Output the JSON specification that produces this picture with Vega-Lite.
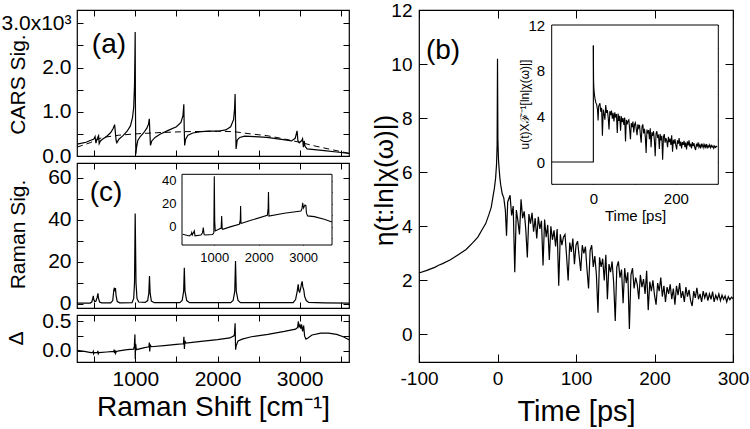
{
  "$schema": "https://vega.github.io/schema/vega-lite/v6.json",
  "background": "white",
  "padding": {"left": 0, "top": 0, "right": 0, "bottom": 0},
  "config": {
    "font": "Liberation Sans",
    "view": {"stroke": "#000", "strokeWidth": 1.2},
    "axis": {"grid": false, "domain": false, "labelFlush": false, "labelOverlap": false, "labelBound": false,
      "labelColor": "#000", "tickColor": "#000", "titleColor": "#000", "titleFontWeight": "normal",
      "labelFont": "Liberation Sans", "titleFont": "Liberation Sans", "tickWidth": 1}
  },
  "datasets": {
    "cars": [
      {"x": 290, "y": 0.27}, {"x": 350, "y": 0.29}, {"x": 400, "y": 0.31}, {"x": 450, "y": 0.35}, {"x": 490, "y": 0.38},
      {"x": 500, "y": 0.40}, {"x": 510, "y": 0.44}, {"x": 520, "y": 0.29}, {"x": 530, "y": 0.36}, {"x": 545, "y": 0.43},
      {"x": 553, "y": 0.46}, {"x": 560, "y": 0.28}, {"x": 575, "y": 0.34}, {"x": 600, "y": 0.38}, {"x": 650, "y": 0.44},
      {"x": 700, "y": 0.53}, {"x": 730, "y": 0.62}, {"x": 748, "y": 0.71}, {"x": 756, "y": 0.55}, {"x": 766, "y": 0.35},
      {"x": 775, "y": 0.30}, {"x": 800, "y": 0.38}, {"x": 850, "y": 0.46}, {"x": 900, "y": 0.56}, {"x": 940, "y": 0.68},
      {"x": 965, "y": 0.86}, {"x": 980, "y": 1.1}, {"x": 990, "y": 1.6}, {"x": 995, "y": 2.3}, {"x": 998, "y": 2.8},
      {"x": 1001, "y": 1.2}, {"x": 1006, "y": 0.04}, {"x": 1015, "y": 0.2}, {"x": 1030, "y": 0.35}, {"x": 1060, "y": 0.44},
      {"x": 1100, "y": 0.52}, {"x": 1140, "y": 0.63}, {"x": 1160, "y": 0.72}, {"x": 1170, "y": 0.84}, {"x": 1176, "y": 0.55},
      {"x": 1184, "y": 0.24}, {"x": 1200, "y": 0.34}, {"x": 1240, "y": 0.42}, {"x": 1300, "y": 0.49}, {"x": 1400, "y": 0.58},
      {"x": 1500, "y": 0.66}, {"x": 1555, "y": 0.76}, {"x": 1580, "y": 0.92}, {"x": 1590, "y": 1.17}, {"x": 1595, "y": 0.6},
      {"x": 1600, "y": 0.24}, {"x": 1612, "y": 0.38}, {"x": 1640, "y": 0.47}, {"x": 1700, "y": 0.52}, {"x": 1800, "y": 0.55},
      {"x": 1900, "y": 0.56}, {"x": 2000, "y": 0.56}, {"x": 2100, "y": 0.59}, {"x": 2160, "y": 0.66}, {"x": 2195, "y": 0.82},
      {"x": 2207, "y": 1.05}, {"x": 2214, "y": 1.4}, {"x": 2219, "y": 0.8}, {"x": 2226, "y": 0.16}, {"x": 2240, "y": 0.36},
      {"x": 2270, "y": 0.42}, {"x": 2330, "y": 0.45}, {"x": 2450, "y": 0.44}, {"x": 2600, "y": 0.42}, {"x": 2800, "y": 0.37},
      {"x": 2900, "y": 0.34}, {"x": 2945, "y": 0.40}, {"x": 2968, "y": 0.57}, {"x": 2978, "y": 0.35}, {"x": 2995, "y": 0.30},
      {"x": 3025, "y": 0.35}, {"x": 3035, "y": 0.39}, {"x": 3045, "y": 0.20}, {"x": 3055, "y": 0.34}, {"x": 3065, "y": 0.22},
      {"x": 3090, "y": 0.16}, {"x": 3150, "y": 0.15}, {"x": 3300, "y": 0.12}, {"x": 3450, "y": 0.09}, {"x": 3600, "y": 0.06}
    ],
    "nrb": [
      {"x": 290, "y": 0.2}, {"x": 450, "y": 0.3}, {"x": 600, "y": 0.42}, {"x": 800, "y": 0.47}, {"x": 1000, "y": 0.5},
      {"x": 1300, "y": 0.53}, {"x": 1600, "y": 0.55}, {"x": 2000, "y": 0.56}, {"x": 2200, "y": 0.55}, {"x": 2400, "y": 0.5},
      {"x": 2600, "y": 0.46}, {"x": 2800, "y": 0.39}, {"x": 3000, "y": 0.31}, {"x": 3200, "y": 0.22}, {"x": 3400, "y": 0.14},
      {"x": 3600, "y": 0.06}
    ],
    "raman": [
      {"x": 290, "y": 0.3}, {"x": 450, "y": 0.3}, {"x": 470, "y": 0.8}, {"x": 482, "y": 2.5}, {"x": 488, "y": 3.7},
      {"x": 494, "y": 2.0}, {"x": 505, "y": 1.0}, {"x": 520, "y": 1.2}, {"x": 535, "y": 3.0}, {"x": 545, "y": 4.9},
      {"x": 552, "y": 2.5}, {"x": 565, "y": 0.8}, {"x": 590, "y": 0.4}, {"x": 700, "y": 0.4}, {"x": 725, "y": 1.5},
      {"x": 738, "y": 6.5}, {"x": 745, "y": 7.6}, {"x": 752, "y": 6.0}, {"x": 758, "y": 7.4}, {"x": 765, "y": 4.0},
      {"x": 780, "y": 1.0}, {"x": 810, "y": 0.4}, {"x": 960, "y": 0.5}, {"x": 980, "y": 2.5}, {"x": 990, "y": 10},
      {"x": 995, "y": 30}, {"x": 998, "y": 42.9}, {"x": 1002, "y": 30}, {"x": 1008, "y": 10}, {"x": 1020, "y": 2.5},
      {"x": 1040, "y": 0.8}, {"x": 1120, "y": 0.6}, {"x": 1150, "y": 1.5}, {"x": 1164, "y": 5}, {"x": 1172, "y": 13.2},
      {"x": 1180, "y": 5}, {"x": 1195, "y": 1.2}, {"x": 1230, "y": 0.5}, {"x": 1540, "y": 0.5}, {"x": 1570, "y": 1.5},
      {"x": 1588, "y": 6}, {"x": 1596, "y": 17.1}, {"x": 1604, "y": 6}, {"x": 1625, "y": 1.5}, {"x": 1660, "y": 0.5},
      {"x": 2160, "y": 0.5}, {"x": 2190, "y": 1.5}, {"x": 2210, "y": 6}, {"x": 2219, "y": 20.3}, {"x": 2228, "y": 6},
      {"x": 2250, "y": 1.5}, {"x": 2280, "y": 0.5}, {"x": 2920, "y": 0.5}, {"x": 2950, "y": 2}, {"x": 2970, "y": 6},
      {"x": 2982, "y": 9.2}, {"x": 2990, "y": 6}, {"x": 3000, "y": 5.5}, {"x": 3010, "y": 7}, {"x": 3022, "y": 9.5},
      {"x": 3030, "y": 10.6}, {"x": 3038, "y": 8}, {"x": 3050, "y": 6.5}, {"x": 3060, "y": 3.5}, {"x": 3080, "y": 1.5},
      {"x": 3110, "y": 0.6}, {"x": 3300, "y": 0.4}, {"x": 3600, "y": 0.3}
    ],
    "ramanInset": [
      {"x": 289, "y": -6.4}, {"x": 437, "y": -7.8}, {"x": 480, "y": -6.5}, {"x": 492, "y": -4.9}, {"x": 505, "y": -7},
      {"x": 550, "y": -3.5}, {"x": 565, "y": -7.8}, {"x": 700, "y": -7}, {"x": 735, "y": -5}, {"x": 752, "y": -0.6},
      {"x": 770, "y": -6.5}, {"x": 790, "y": -7}, {"x": 964, "y": -6.5}, {"x": 990, "y": -5}, {"x": 1000, "y": 44},
      {"x": 1010, "y": 5}, {"x": 1022, "y": -3.5}, {"x": 1100, "y": -2}, {"x": 1155, "y": -1}, {"x": 1166, "y": 9.6},
      {"x": 1178, "y": -1.5}, {"x": 1189, "y": -2}, {"x": 1375, "y": 0.3}, {"x": 1563, "y": 2.3}, {"x": 1585, "y": 6},
      {"x": 1593, "y": 18.3}, {"x": 1600, "y": 3.0}, {"x": 1826, "y": 5.8}, {"x": 2195, "y": 10.1}, {"x": 2212, "y": 16},
      {"x": 2220, "y": 30.4}, {"x": 2230, "y": 9.5}, {"x": 2575, "y": 11.9}, {"x": 2951, "y": 13.9}, {"x": 2975, "y": 16},
      {"x": 2989, "y": 21}, {"x": 3010, "y": 16.5}, {"x": 3040, "y": 19}, {"x": 3063, "y": 18.5}, {"x": 3075, "y": 12},
      {"x": 3101, "y": 9.6}, {"x": 3251, "y": 9}, {"x": 3476, "y": 6.7}, {"x": 3648, "y": 4.3}
    ],
    "delta": [
      {"x": 290, "y": 0.01}, {"x": 380, "y": -0.01}, {"x": 460, "y": -0.03}, {"x": 482, "y": -0.03}, {"x": 488, "y": -0.01},
      {"x": 493, "y": -0.05}, {"x": 500, "y": -0.03}, {"x": 538, "y": -0.03}, {"x": 544, "y": 0.0}, {"x": 549, "y": -0.05},
      {"x": 556, "y": -0.03}, {"x": 650, "y": -0.02}, {"x": 738, "y": -0.01}, {"x": 742, "y": 0.02}, {"x": 748, "y": -0.04},
      {"x": 754, "y": 0.01}, {"x": 760, "y": -0.04}, {"x": 768, "y": -0.01}, {"x": 800, "y": 0.0}, {"x": 900, "y": 0.02},
      {"x": 978, "y": 0.03}, {"x": 988, "y": 0.08}, {"x": 995, "y": 0.28}, {"x": 999, "y": -0.14}, {"x": 1004, "y": 0.12},
      {"x": 1012, "y": 0.02}, {"x": 1100, "y": 0.05}, {"x": 1165, "y": 0.07}, {"x": 1170, "y": 0.14}, {"x": 1175, "y": -0.01},
      {"x": 1181, "y": 0.1}, {"x": 1195, "y": 0.07}, {"x": 1350, "y": 0.09}, {"x": 1500, "y": 0.11}, {"x": 1585, "y": 0.12},
      {"x": 1591, "y": 0.24}, {"x": 1597, "y": 0.03}, {"x": 1603, "y": 0.17}, {"x": 1615, "y": 0.13}, {"x": 1800, "y": 0.16},
      {"x": 2000, "y": 0.19}, {"x": 2150, "y": 0.22}, {"x": 2205, "y": 0.26}, {"x": 2214, "y": 0.47}, {"x": 2220, "y": 0.02},
      {"x": 2228, "y": 0.09}, {"x": 2250, "y": 0.17}, {"x": 2300, "y": 0.2}, {"x": 2411, "y": 0.24}, {"x": 2613, "y": 0.28},
      {"x": 2814, "y": 0.33}, {"x": 2950, "y": 0.37}, {"x": 2975, "y": 0.4}, {"x": 2983, "y": 0.5}, {"x": 2993, "y": 0.41},
      {"x": 3003, "y": 0.44}, {"x": 3013, "y": 0.38}, {"x": 3023, "y": 0.45}, {"x": 3035, "y": 0.33}, {"x": 3048, "y": 0.43},
      {"x": 3060, "y": 0.25}, {"x": 3076, "y": 0.2}, {"x": 3100, "y": 0.22}, {"x": 3150, "y": 0.27}, {"x": 3258, "y": 0.3},
      {"x": 3350, "y": 0.3}, {"x": 3450, "y": 0.28}, {"x": 3530, "y": 0.24}, {"x": 3600, "y": 0.19}
    ],
    "eta": [
      {"t": -100, "y": 2.27}, {"t": -90, "y": 2.37}, {"t": -80, "y": 2.48}, {"t": -75, "y": 2.56}, {"t": -70, "y": 2.62},
      {"t": -60, "y": 2.76}, {"t": -50, "y": 2.95}, {"t": -40, "y": 3.14}, {"t": -32, "y": 3.38}, {"t": -25, "y": 3.6},
      {"t": -19.5, "y": 3.88}, {"t": -15, "y": 4.1}, {"t": -11, "y": 4.43}, {"t": -8, "y": 4.7}, {"t": -6, "y": 5.05},
      {"t": -4, "y": 5.4}, {"t": -2.4, "y": 5.78}, {"t": -1.2, "y": 6.3}, {"t": -0.5, "y": 7.0}, {"t": 0, "y": 10.2},
      {"t": 0.5, "y": 7.2}, {"t": 1.2, "y": 6.5}, {"t": 2, "y": 6.15}, {"t": 3, "y": 5.8},
      {"t": 4, "y": 5.55}, {"t": 6, "y": 5.2}, {"t": 8, "y": 5.05}, {"t": 10, "y": 4.6}, {"t": 11.5, "y": 3.65},
      {"t": 13, "y": 4.9}, {"t": 16, "y": 5.15}, {"t": 18, "y": 4.4}, {"t": 20, "y": 4.75}, {"t": 22, "y": 2.3},
      {"t": 24, "y": 4.6}, {"t": 26, "y": 4.2}, {"t": 28, "y": 3.7}, {"t": 30, "y": 5.0}, {"t": 32, "y": 4.3},
      {"t": 34, "y": 4.55}, {"t": 36, "y": 3.9}, {"t": 38, "y": 2.85}, {"t": 40, "y": 4.45}, {"t": 42, "y": 4.1},
      {"t": 44, "y": 4.5}, {"t": 46, "y": 3.8}, {"t": 48, "y": 4.3}, {"t": 50, "y": 3.55}, {"t": 52, "y": 4.35},
      {"t": 54, "y": 3.9}, {"t": 56, "y": 4.2}, {"t": 58, "y": 2.55}, {"t": 60, "y": 4.25}, {"t": 62, "y": 3.6},
      {"t": 64, "y": 4.05}, {"t": 66, "y": 2.75}, {"t": 68, "y": 4.0}, {"t": 70, "y": 3.5}, {"t": 72, "y": 3.85},
      {"t": 74, "y": 3.25}, {"t": 76, "y": 3.9}, {"t": 78, "y": 1.8}, {"t": 80, "y": 3.7}, {"t": 82, "y": 3.3},
      {"t": 84, "y": 3.6}, {"t": 86, "y": 3.7}, {"t": 88, "y": 2.9}, {"t": 90, "y": 2.0}, {"t": 92, "y": 3.4},
      {"t": 94, "y": 3.05}, {"t": 96, "y": 3.55}, {"t": 98, "y": 2.6}, {"t": 100, "y": 3.3}, {"t": 102, "y": 3.45},
      {"t": 104, "y": 2.9}, {"t": 106, "y": 2.35}, {"t": 108, "y": 3.3}, {"t": 110, "y": 3.0}, {"t": 112, "y": 3.25},
      {"t": 114, "y": 2.4}, {"t": 116, "y": 1.7}, {"t": 118, "y": 3.1}, {"t": 120, "y": 3.3}, {"t": 122, "y": 2.5},
      {"t": 124, "y": 2.9}, {"t": 126, "y": 2.2}, {"t": 128, "y": 0.8}, {"t": 130, "y": 2.85}, {"t": 132, "y": 2.5},
      {"t": 134, "y": 2.8}, {"t": 136, "y": 2.0}, {"t": 138, "y": 2.95}, {"t": 140, "y": 1.3}, {"t": 142, "y": 2.6},
      {"t": 144, "y": 2.3}, {"t": 146, "y": 2.7}, {"t": 148, "y": 1.9}, {"t": 150, "y": 0.5}, {"t": 152, "y": 2.5},
      {"t": 154, "y": 2.7}, {"t": 156, "y": 2.1}, {"t": 158, "y": 2.4}, {"t": 160, "y": 1.15}, {"t": 162, "y": 2.45},
      {"t": 164, "y": 1.9}, {"t": 166, "y": 2.3}, {"t": 168, "y": 0.2}, {"t": 170, "y": 2.2}, {"t": 172, "y": 2.45},
      {"t": 174, "y": 1.7}, {"t": 176, "y": 2.1}, {"t": 178, "y": 1.85}, {"t": 180, "y": 1.3}, {"t": 182, "y": 2.2},
      {"t": 184, "y": 1.75}, {"t": 186, "y": 2.05}, {"t": 188, "y": 1.5}, {"t": 190, "y": 2.35}, {"t": 192, "y": 0.9},
      {"t": 194, "y": 1.95}, {"t": 196, "y": 1.6}, {"t": 198, "y": 2.0}, {"t": 200, "y": 1.45}, {"t": 202, "y": 1.1},
      {"t": 204, "y": 1.9}, {"t": 206, "y": 1.6}, {"t": 208, "y": 2.1}, {"t": 210, "y": 1.4}, {"t": 212, "y": 1.8},
      {"t": 214, "y": 1.2}, {"t": 216, "y": 1.75}, {"t": 218, "y": 1.5}, {"t": 220, "y": 1.85}, {"t": 222, "y": 1.3},
      {"t": 224, "y": 1.7}, {"t": 226, "y": 1.1}, {"t": 228, "y": 1.8}, {"t": 230, "y": 1.45}, {"t": 232, "y": 1.9},
      {"t": 234, "y": 1.35}, {"t": 236, "y": 1.6}, {"t": 238, "y": 1.2}, {"t": 240, "y": 1.75}, {"t": 242, "y": 1.4},
      {"t": 244, "y": 1.65}, {"t": 246, "y": 1.25}, {"t": 248, "y": 1.05}, {"t": 250, "y": 1.6}, {"t": 252, "y": 1.35},
      {"t": 254, "y": 1.72}, {"t": 256, "y": 1.3}, {"t": 258, "y": 1.5}, {"t": 260, "y": 1.2}, {"t": 262, "y": 1.6},
      {"t": 264, "y": 1.35}, {"t": 266, "y": 1.55}, {"t": 268, "y": 1.25}, {"t": 270, "y": 1.5}, {"t": 272, "y": 1.3},
      {"t": 274, "y": 1.58}, {"t": 276, "y": 1.2}, {"t": 278, "y": 1.45}, {"t": 280, "y": 1.3}, {"t": 282, "y": 1.5},
      {"t": 284, "y": 1.25}, {"t": 286, "y": 1.45}, {"t": 288, "y": 1.3}, {"t": 290, "y": 1.42}, {"t": 292, "y": 1.2},
      {"t": 294, "y": 1.4}, {"t": 296, "y": 1.28}, {"t": 298, "y": 1.38}, {"t": 300, "y": 1.32}
    ],
    "step": [
      {"t": -101, "y": 0, "o": 1}, {"t": 0, "y": 0, "o": 2}, {"t": 0, "y": 10.2, "o": 3}
    ]
  },
  "hconcat": [
    {
      "vconcat": [
        {
          "width": 272, "height": 146,
          "layer": [
            {
              "data": {"name": "cars"},
              "mark": {"type": "line", "color": "#000", "strokeWidth": 1.2},
              "encoding": {
                "x": {"field": "x", "type": "quantitative", "scale": {"domain": [290, 3600], "nice": false, "zero": false},
                  "axis": {"orient": "bottom", "values": [500, 1000, 1500, 2000, 2500, 3000, 3500], "labels": false, "tickSize": -6, "title": null}},
                "y": {"field": "y", "type": "quantitative", "scale": {"domain": [0, 3.3], "nice": false, "zero": false},
                  "axis": {"orient": "left", "values": [0, 0.5, 1, 1.5, 2, 2.5, 3], "tickSize": -6, "labelPadding": 12, "labelFontSize": 21,
                    "labelExpr": "datum.value == 3 ? '3.0x10³' : (datum.value == 0 || datum.value == 1 || datum.value == 2 ? format(datum.value, '.1f') : '')",
                    "title": "CARS Sig.", "titleFontSize": 21, "titleX": -59, "titleY": 74, "titleBaseline": "middle"}}
              }
            },
            {
              "data": {"name": "nrb"},
              "mark": {"type": "line", "color": "#000", "strokeWidth": 1, "strokeDash": [6, 4]},
              "encoding": {
                "x": {"field": "x", "type": "quantitative", "axis": null},
                "y": {"field": "y", "type": "quantitative", "axis": null}
              }
            },
            {
              "data": {"name": "nrb"},
              "mark": {"type": "line", "opacity": 0},
              "encoding": {
                "x": {"field": "x", "type": "quantitative",
                  "axis": {"orient": "top", "values": [500, 1000, 1500, 2000, 2500, 3000, 3500], "labels": false, "tickSize": -6, "title": null}},
                "y": {"field": "y", "type": "quantitative",
                  "axis": {"orient": "right", "values": [0, 0.5, 1, 1.5, 2, 2.5, 3], "labels": false, "tickSize": -6, "title": null}}
              }
            },
            {
              "data": {"values": [{}]},
              "mark": {"type": "text", "fontSize": 28, "font": "Liberation Sans", "align": "center", "baseline": "middle", "color": "#000"},
              "encoding": {
                "x": {"datum": 679, "type": "quantitative", "axis": null},
                "y": {"datum": 2.51, "type": "quantitative", "axis": null},
                "text": {"value": "(a)"}
              }
            }
          ]
        },
        {
          "width": 272, "height": 145,
          "resolve": {"scale": {"x": "independent", "y": "independent"}},
          "layer": [
            {
              "layer": [
                {
                  "data": {"name": "raman"},
                  "mark": {"type": "line", "color": "#000", "strokeWidth": 1.2},
                  "encoding": {
                    "x": {"field": "x", "type": "quantitative", "scale": {"domain": [290, 3600], "nice": false, "zero": false},
                      "axis": {"orient": "bottom", "values": [500, 1000, 1500, 2000, 2500, 3000, 3500], "labels": false, "tickSize": -6, "title": null}},
                    "y": {"field": "y", "type": "quantitative", "scale": {"domain": [-2.05, 67], "nice": false, "zero": false},
                      "axis": {"orient": "left", "values": [0, 10, 20, 30, 40, 50, 60], "tickSize": -6, "labelPadding": 12, "labelFontSize": 21,
                        "labelExpr": "datum.value % 20 == 0 ? datum.label : ''",
                        "title": "Raman Sig.", "titleFontSize": 21, "titleX": -59, "titleY": 71, "titleBaseline": "middle"}}
                  }
                },
                {
                  "data": {"name": "raman"},
                  "mark": {"type": "line", "opacity": 0},
                  "encoding": {
                    "x": {"field": "x", "type": "quantitative",
                      "axis": {"orient": "top", "values": [500, 1000, 1500, 2000, 2500, 3000, 3500], "labels": false, "tickSize": -6, "title": null}},
                    "y": {"field": "y", "type": "quantitative",
                      "axis": {"orient": "right", "values": [0, 10, 20, 30, 40, 50, 60], "labels": false, "tickSize": -6, "title": null}}
                  }
                },
                {
                  "data": {"values": [{}]},
                  "mark": {"type": "text", "fontSize": 28, "font": "Liberation Sans", "align": "center", "baseline": "middle", "color": "#000"},
                  "encoding": {
                    "x": {"datum": 643, "type": "quantitative", "axis": null},
                    "y": {"datum": 52.7, "type": "quantitative", "axis": null},
                    "text": {"value": "(c)"}
                  }
                }
              ]
            },
            {
              "layer": [
                {
                  "data": {"values": [{}]},
                  "mark": {"type": "rect", "fill": "white", "stroke": "#000", "strokeWidth": 1},
                  "encoding": {
                    "x": {"datum": 273, "type": "quantitative", "scale": {"domain": [273, 3650], "range": [105, 255], "nice": false, "zero": false}, "axis": null},
                    "x2": {"datum": 3650},
                    "y": {"datum": -15.7, "type": "quantitative", "scale": {"domain": [-15.7, 45.8], "range": [82, 11.3], "nice": false, "zero": false}, "axis": null},
                    "y2": {"datum": 45.8}
                  }
                },
                {
                  "data": {"name": "ramanInset"},
                  "mark": {"type": "line", "color": "#000", "strokeWidth": 1.1},
                  "encoding": {
                    "x": {"field": "x", "type": "quantitative",
                      "axis": {"orient": "bottom", "offset": -63, "values": [1000, 2000, 3000], "format": "d", "tickSize": -4, "labelPadding": 10, "labelFontSize": 13, "title": null}},
                    "y": {"field": "y", "type": "quantitative",
                      "axis": {"orient": "left", "offset": -105, "values": [-10, 0, 10, 20, 30, 40], "tickSize": -4, "labelPadding": 10, "labelFontSize": 13,
                        "labelExpr": "datum.value % 20 == 0 ? datum.label : ''", "title": null}}
                  }
                },
                {
                  "data": {"name": "ramanInset"},
                  "mark": {"type": "line", "opacity": 0},
                  "encoding": {
                    "x": {"field": "x", "type": "quantitative",
                      "axis": {"orient": "top", "offset": -11.3, "values": [1000, 2000, 3000], "tickSize": -4, "labels": false, "title": null}},
                    "y": {"field": "y", "type": "quantitative",
                      "axis": {"orient": "right", "offset": -17, "values": [-10, 0, 10, 20, 30, 40], "tickSize": -4, "labels": false, "title": null}}
                  }
                }
              ]
            }
          ]
        },
        {
          "width": 272, "height": 47,
          "layer": [
            {
              "data": {"name": "delta"},
              "mark": {"type": "line", "color": "#000", "strokeWidth": 1.2},
              "encoding": {
                "x": {"field": "x", "type": "quantitative", "scale": {"domain": [290, 3600], "nice": false, "zero": false},
                  "axis": {"orient": "bottom", "values": [500, 1000, 1500, 2000, 2500, 3000, 3500], "tickSize": -6, "labelPadding": 12, "labelFontSize": 21,
                    "labelExpr": "datum.value % 1000 == 0 ? format(datum.value, 'd') : ''",
                    "title": "Raman Shift [cm⁻¹]", "titleFontSize": 28, "titleY": 45, "titleBaseline": "middle"}},
                "y": {"field": "y", "type": "quantitative", "scale": {"domain": [-0.19, 0.61], "nice": false, "zero": false},
                  "axis": {"orient": "left", "values": [0, 0.25, 0.5], "tickSize": -6, "labelPadding": 12, "labelFontSize": 21,
                    "labelExpr": "datum.value == 0.25 ? '' : format(datum.value, '.1f')",
                    "title": "Δ", "titleFontSize": 21, "titleX": -61, "titleY": 23, "titleBaseline": "middle"}}
              }
            },
            {
              "data": {"name": "delta"},
              "mark": {"type": "line", "opacity": 0},
              "encoding": {
                "x": {"field": "x", "type": "quantitative",
                  "axis": {"orient": "top", "values": [500, 1000, 1500, 2000, 2500, 3000, 3500], "labels": false, "tickSize": -6, "title": null}},
                "y": {"field": "y", "type": "quantitative",
                  "axis": {"orient": "right", "values": [0, 0.25, 0.5], "labels": false, "tickSize": -6, "title": null}}
              }
            }
          ]
        }
      ],
      "spacing": 7,
      "bounds": "flush"
    },
    {
      "width": 314, "height": 352,
      "resolve": {"scale": {"x": "independent", "y": "independent"}},
      "layer": [
        {
          "layer": [
            {
              "data": {"name": "eta"},
              "mark": {"type": "line", "color": "#000", "strokeWidth": 1.2},
              "encoding": {
                "x": {"field": "t", "type": "quantitative", "scale": {"domain": [-100, 300], "nice": false, "zero": false},
                  "axis": {"orient": "bottom", "values": [-100, 0, 100, 200, 300], "tickSize": -8, "labelPadding": 15, "labelFontSize": 19,
                    "labelExpr": "datum.value < 0 ? '-' + format(-datum.value, 'd') : format(datum.value, 'd')",
                    "title": "Time [ps]", "titleFontSize": 29, "titleY": 49, "titleBaseline": "middle"}},
                "y": {"field": "y", "type": "quantitative", "scale": {"domain": [-1.02, 12], "nice": false, "zero": false},
                  "axis": {"orient": "left", "values": [0, 2, 4, 6, 8, 10, 12], "tickSize": -8, "labelPadding": 15, "labelFontSize": 19,
                    "title": "η(t:ln|χ(ω)|)", "titleFontSize": 26, "titleX": -35, "titleY": 170, "titleBaseline": "middle"}}
              }
            },
            {
              "data": {"name": "eta"},
              "mark": {"type": "line", "opacity": 0},
              "encoding": {
                "x": {"field": "t", "type": "quantitative",
                  "axis": {"orient": "top", "values": [-100, 0, 100, 200, 300], "labels": false, "tickSize": -8, "title": null}},
                "y": {"field": "y", "type": "quantitative",
                  "axis": {"orient": "right", "values": [0, 2, 4, 6, 8, 10, 12], "labels": false, "tickSize": -8, "title": null}}
              }
            },
            {
              "data": {"values": [{}]},
              "mark": {"type": "text", "fontSize": 28, "font": "Liberation Sans", "align": "center", "baseline": "middle", "color": "#000"},
              "encoding": {
                "x": {"datum": -69.4, "type": "quantitative", "axis": null},
                "y": {"datum": 10.5, "type": "quantitative", "axis": null},
                "text": {"value": "(b)"}
              }
            }
          ]
        },
        {
          "layer": [
            {
              "data": {"values": [{}]},
              "mark": {"type": "rect", "fill": "white", "stroke": "#000", "strokeWidth": 1},
              "encoding": {
                "x": {"datum": -101, "type": "quantitative", "scale": {"domain": [-101, 303], "range": [132.7, 299.3], "nice": false, "zero": false}, "axis": null},
                "x2": {"datum": 303},
                "y": {"datum": -1.95, "type": "quantitative", "scale": {"domain": [-1.95, 12], "range": [174.3, 15], "nice": false, "zero": false}, "axis": null},
                "y2": {"datum": 12}
              }
            },
            {
              "data": {"name": "step"},
              "mark": {"type": "line", "color": "#000", "strokeWidth": 1.1},
              "encoding": {
                "x": {"field": "t", "type": "quantitative",
                  "axis": {"orient": "bottom", "offset": -177.7, "values": [-100, 0, 100, 200, 300], "tickSize": -5, "labelPadding": 12, "labelFontSize": 15,
                    "labelExpr": "datum.value == 0 || datum.value == 200 ? datum.label : ''",
                    "title": "Time [ps]", "titleFontSize": 15, "titlePadding": 2}},
                "y": {"field": "y", "type": "quantitative",
                  "axis": {"orient": "left", "offset": -132.7, "values": [0, 2, 4, 6, 8, 10, 12], "tickSize": -5, "labelPadding": 12, "labelFontSize": 15,
                    "labelExpr": "datum.value % 4 == 0 ? datum.label : ''",
                    "title": "u(t)Xℱ⁻¹[ln|χ(ω)|]", "titleFontSize": 12, "titleX": -27, "titleY": 94, "titleBaseline": "middle"}},
                "order": {"field": "o", "type": "quantitative"}
              }
            },
            {
              "data": {"name": "eta"},
              "transform": [{"filter": "datum.t >= 0"}],
              "mark": {"type": "line", "color": "#000", "strokeWidth": 1.1},
              "encoding": {
                "x": {"field": "t", "type": "quantitative", "axis": null},
                "y": {"field": "y", "type": "quantitative", "axis": null}
              }
            },
            {
              "data": {"name": "step"},
              "mark": {"type": "line", "opacity": 0},
              "encoding": {
                "x": {"field": "t", "type": "quantitative",
                  "axis": {"orient": "top", "offset": -15, "values": [-100, 0, 100, 200, 300], "tickSize": -5, "labels": false, "title": null}},
                "y": {"field": "y", "type": "quantitative",
                  "axis": {"orient": "right", "offset": -14.7, "values": [0, 2, 4, 6, 8, 10, 12], "tickSize": -5, "labels": false, "title": null}}
              }
            }
          ]
        }
      ]
    }
  ],
  "spacing": 18
}
